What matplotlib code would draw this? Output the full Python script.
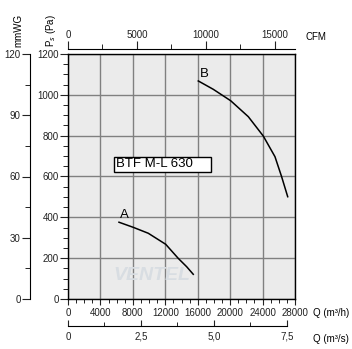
import numpy as np
import matplotlib
matplotlib.use("Agg")
import matplotlib.pyplot as plt
from matplotlib.ticker import MultipleLocator
from matplotlib.patches import Rectangle

plt.rcParams['font.family'] = ['Liberation Sans', 'DejaVu Sans']

# curve data (Q in m3/h, Ps in Pa)
a_q = [6290, 8050, 9900, 12050, 13600, 14640, 15450]
a_pa = [376, 351, 322, 268, 199, 158, 121]
b_q = [16070, 17920, 20070, 22240, 24090, 25530, 26350, 27100]
b_pa = [1068, 1027, 971, 893, 798, 697, 599, 501]
model = "BTF M-L 630"

PX = 0.72  # points per pixel at dpi 100
FS = 7

fig = plt.figure(figsize=(3.52, 3.49), dpi=100)
ax = fig.add_axes([68/352, 50/349, 227/352, 245/349])
ax.set_facecolor('#ebebeb')
ax.set_xlim(0, 28000)
ax.set_ylim(0, 1200)
ax.xaxis.set_major_locator(MultipleLocator(4000))
ax.xaxis.set_minor_locator(MultipleLocator(1000))
ax.yaxis.set_major_locator(MultipleLocator(200))
ax.yaxis.set_minor_locator(MultipleLocator(50))
ax.grid(True, which='major', color='#808080', lw=1)
ax.set_axisbelow(True)
ax.tick_params(which='major', length=8*PX, labelsize=FS, pad=1, colors='#222222')
ax.tick_params(axis='x', which='major', length=6*PX, pad=2)
ax.tick_params(which='minor', length=5*PX)
ax.tick_params(axis='x', which='minor', length=4*PX)
for s in ax.spines.values():
    s.set_linewidth(1)

# watermark
ax.text(10300, 115, "VENTEL", fontsize=14, fontweight='bold', style='italic',
        color='#d8dde2', ha='center', va='center', zorder=1)

ax.plot(a_q, a_pa, color='black', lw=1.1, zorder=3)
ax.plot(b_q, b_pa, color='black', lw=1.1, zorder=3)
ax.text(a_q[0] + 150, a_pa[0] + 5, "A", fontsize=9.5, ha='left', va='bottom')
ax.text(b_q[0] + 150, b_pa[0] + 5, "B", fontsize=9.5, ha='left', va='bottom')

ax.add_patch(Rectangle((5674, 622), 11966, 74, facecolor='white',
                       edgecolor='black', lw=1, zorder=4))
ax.text(5950, 659, model, fontsize=9.5, ha='left', va='center', zorder=5)

# CFM axis on top
axt = ax.twiny()
axt.set_xlim(0, 28000/1.699)
axt.xaxis.set_major_locator(MultipleLocator(5000))
axt.xaxis.set_minor_locator(MultipleLocator(2500))
for k in ['left', 'right', 'bottom']:
    axt.spines[k].set_visible(False)
axt.spines['top'].set_position(('outward', 5*PX))
axt.tick_params(which='major', length=8*PX, labelsize=FS, pad=1, colors='#222222')
axt.tick_params(which='minor', length=5*PX)

# mmWG axis
axm = ax.twinx()
axm.set_ylim(0, 120)
axm.yaxis.set_ticks_position('left')
axm.yaxis.set_major_locator(MultipleLocator(30))
axm.yaxis.set_minor_locator(MultipleLocator(15))
for k in ['top', 'right', 'bottom']:
    axm.spines[k].set_visible(False)
axm.spines['left'].set_position(('outward', 38*PX))
axm.tick_params(which='major', length=8*PX, labelsize=FS, pad=1, colors='#222222')
axm.tick_params(which='minor', length=5*PX)

# m3/s axis at the bottom
axs = ax.twiny()
axs.set_xlim(0, 28000/3600)
axs.xaxis.set_ticks_position('bottom')
axs.xaxis.set_major_locator(MultipleLocator(2.5))
axs.xaxis.set_minor_locator(MultipleLocator(1.25))
axs.xaxis.set_major_formatter(lambda v, p: "0" if v == 0 else f"{v:.1f}".replace('.', ','))
for k in ['left', 'right', 'top']:
    axs.spines[k].set_visible(False)
axs.spines['bottom'].set_position(('outward', 27*PX))
axs.spines['bottom'].set_bounds(0, 7.5)
axs.tick_params(which='major', direction='in', length=6*PX, labelsize=FS,
                pad=4, colors='#222222')
axs.tick_params(which='minor', direction='in', length=4*PX)

fig.text(306/352, 1-37/349, "CFM", fontsize=FS, ha='left', va='center')
fig.text(313/352, 1-313/349, "Q (m³/h)", fontsize=FS, ha='left', va='center')
fig.text(313/352, 1-339/349, "Q (m³/s)", fontsize=FS, ha='left', va='center')
fig.text(18/352, 1-30/349, "mmWG", fontsize=FS, rotation=90, ha='center', va='center')
fig.text(51/352, 1-30/349, "P$_s$ (Pa)", fontsize=FS, rotation=90, ha='center', va='center')

fig.savefig("out.png", dpi=100)
